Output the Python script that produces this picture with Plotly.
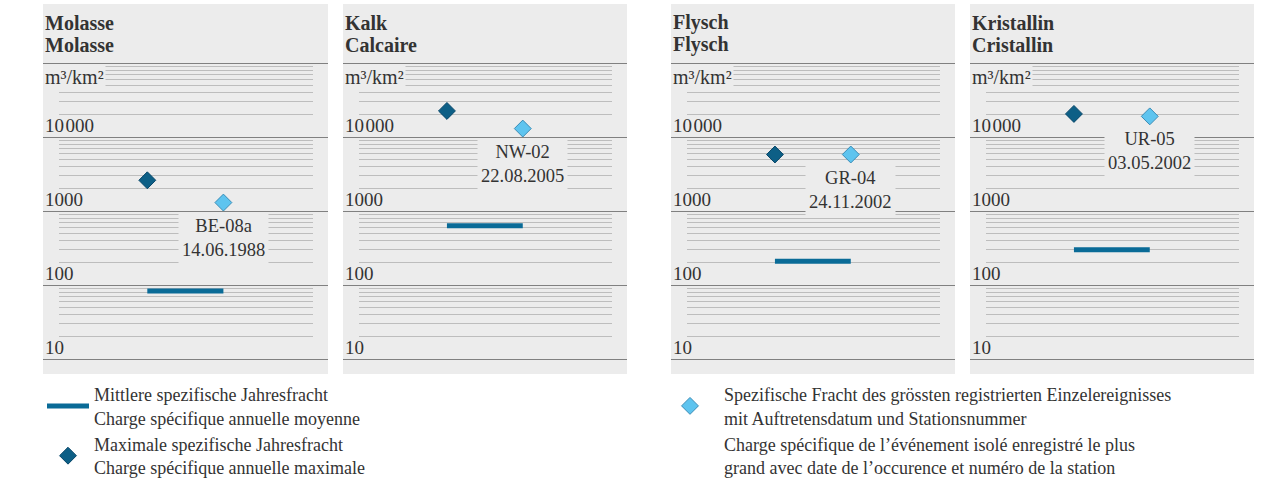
import math
import plotly.graph_objects as go

# ---------------- data ----------------
regions_de = ["Molasse", "Kalk", "Flysch", "Kristallin"]
regions_fr = ["Molasse", "Calcaire", "Flysch", "Cristallin"]
mean_annual_load = [83, 630, 210, 300]          # m3/km2
max_annual_load = [2600, 22500, 5800, 20500]    # m3/km2
event_load = [1300, 13000, 5800, 19000]         # m3/km2
event_station = ["BE-08a", "NW-02", "GR-04", "UR-05"]
event_date = ["14.06.1988", "22.08.2005", "24.11.2002", "03.05.2002"]
tick_values = [10, 100, 1000, 10000]
tick_labels = ["10", "100", "1000", "10\u200a000"]
unit_label = "m³/km²"
legend_mean = "Mittlere spezifische Jahresfracht<br>Charge spécifique annuelle moyenne"
legend_max = "Maximale spezifische Jahresfracht<br>Charge spécifique annuelle maximale"
legend_event_de = "Spezifische Fracht des grössten registrierten Einzelereignisses<br>mit Auftretensdatum und Stationsnummer"
legend_event_fr = "Charge spécifique de l\u2019événement isolé enregistré le plus<br>grand avec date de l\u2019occurence et numéro de la station"

# ---------------- styling / layout ----------------
W, H = 1273, 486
FONT = "Liberation Serif"
TXT = "#333333"
PANEL_BG = "#ececec"
MAJOR_GRID = "#808080"
MINOR_GRID = "#bdbdbd"
BAR_COLOR = "#0a6b97"
MAX_FILL, MAX_LINE = "#0d5f86", "#08476a"
EV_FILL, EV_LINE = "#5ec4ef", "#3a8cb6"

panel_px = [(43, 328), (343, 627), (671, 955), (970, 1254)]
top_px, bottom_px = 4, 374
grid_top_px, grid_bottom_px = 63, 359
inset = 15
decade_px = (grid_bottom_px - grid_top_px) / 4.0

def py(px):
    return 1 - px / H

def pxx(px):
    return px / W

main_ydom = [py(bottom_px), py(top_px)]
main_yrange = [1 - (bottom_px - grid_bottom_px) / decade_px, 5 + (grid_top_px - top_px) / decade_px]
minor_ydom = [py(grid_bottom_px), py(grid_top_px)]
minor_vals = [m * 10 ** k for k in range(1, 5) for m in range(2, 10)]

# marker x positions (max at 0, event at 1) -> fractions of panel width
f0, f1 = 0.366, 0.633
xlo = -f0 / (f1 - f0)
xhi = xlo + 1 / (f1 - f0)

fig = go.Figure()
layout = dict(
    width=W, height=H, autosize=False,
    margin=dict(l=0, r=0, t=0, b=0),
    paper_bgcolor="white",
    plot_bgcolor="rgba(0,0,0,0)",
    font=dict(family=FONT, color=TXT, size=18),
    shapes=[], annotations=[],
)

for i, (L, R) in enumerate(panel_px):
    mid = 2 * i + 1      # minor-grid subplot id
    mai = 2 * i + 2      # main subplot id
    sfx_min = "" if mid == 1 else str(mid)
    sfx_mai = str(mai)

    # panel background
    layout["shapes"].append(dict(type="rect", xref="paper", yref="paper", layer="below",
                                 x0=pxx(L), x1=pxx(R), y0=py(bottom_px), y1=py(top_px),
                                 fillcolor=PANEL_BG, line=dict(width=0)))

    # minor grid subplot (inset)
    layout["xaxis" + sfx_min] = dict(domain=[pxx(L + inset + 1), pxx(R - inset)], range=[0, 1],
                                     visible=False, anchor="y" + sfx_min)
    layout["yaxis" + sfx_min] = dict(domain=minor_ydom, type="log", range=[1, 5], anchor="x" + sfx_min,
                                     tickmode="array", tickvals=minor_vals, showticklabels=False,
                                     ticks="", showline=False, zeroline=False,
                                     showgrid=True, gridcolor=MINOR_GRID, gridwidth=1.2)
    fig.add_trace(go.Scatter(x=[None], y=[None], xaxis="x" + sfx_min, yaxis="y" + sfx_min,
                             showlegend=False, hoverinfo="skip"))

    # main subplot (full panel width, decade lines)
    layout["xaxis" + sfx_mai] = dict(domain=[pxx(L), pxx(R)], range=[xlo, xhi],
                                     visible=False, anchor="y" + sfx_mai)
    layout["yaxis" + sfx_mai] = dict(domain=main_ydom, type="log", range=main_yrange, anchor="x" + sfx_mai,
                                     tickmode="array", tickvals=tick_values + [100000], showticklabels=False,
                                     ticks="", showline=False, zeroline=False,
                                     showgrid=True, gridcolor=MAJOR_GRID, gridwidth=1.4)

    xa, ya = "x" + sfx_mai, "y" + sfx_mai
    first = i == 0
    fig.add_trace(go.Scatter(x=[0, 1], y=[mean_annual_load[i]] * 2, xaxis=xa, yaxis=ya, mode="lines",
                             line=dict(color=BAR_COLOR, width=5), name=legend_mean,
                             showlegend=first, legend="legend", hoverinfo="skip"))
    fig.add_trace(go.Scatter(x=[0], y=[max_annual_load[i]], xaxis=xa, yaxis=ya, mode="markers",
                             marker=dict(symbol="diamond", size=13, color=MAX_FILL,
                                         line=dict(color=MAX_LINE, width=1)),
                             name=legend_max, showlegend=first, legend="legend", hoverinfo="skip"))
    fig.add_trace(go.Scatter(x=[1], y=[event_load[i]], xaxis=xa, yaxis=ya, mode="markers",
                             marker=dict(symbol="diamond", size=13, color=EV_FILL,
                                         line=dict(color=EV_LINE, width=1)),
                             name=legend_event_de, showlegend=first, legend="legend2", hoverinfo="skip"))

    # titles
    layout["annotations"].append(dict(xref="paper", yref="paper", x=pxx(L), y=py(22.7),
                                      xanchor="left", yanchor="middle", showarrow=False,
                                      text="<b>%s</b>" % regions_de[i], font=dict(size=20)))
    layout["annotations"].append(dict(xref="paper", yref="paper", x=pxx(L), y=py(45),
                                      xanchor="left", yanchor="middle", showarrow=False,
                                      text="<b>%s</b>" % regions_fr[i], font=dict(size=20)))
    # unit label
    layout["annotations"].append(dict(xref="paper", yref="paper", x=pxx(L), y=py(grid_top_px + 1),
                                      xanchor="left", yanchor="top", showarrow=False,
                                      text=unit_label, bgcolor=PANEL_BG, borderpad=1,
                                      font=dict(size=20)))
    # tick labels
    for v, lab in zip(tick_values, tick_labels):
        layout["annotations"].append(dict(xref="paper", yref=ya, x=pxx(L), y=math.log10(v),
                                          xanchor="left", yanchor="bottom", showarrow=False,
                                          text=lab, font=dict(size=19), yshift=-1))
    # event label
    layout["annotations"].append(dict(xref=xa, yref=ya, x=1, y=math.log10(event_load[i]),
                                      xanchor="center", yanchor="top", yshift=-9, showarrow=False,
                                      text="%s<br>%s" % (event_station[i], event_date[i]),
                                      bgcolor=PANEL_BG, borderpad=3, align="center",
                                      font=dict(size=18.5)))

# legend-only entry for the French text of the event legend
fig.add_trace(go.Scatter(x=[None], y=[None], xaxis="x2", yaxis="y2", mode="markers",
                         marker=dict(symbol="diamond", size=13, color="rgba(0,0,0,0)"),
                         name=legend_event_fr, showlegend=True, legend="legend2", hoverinfo="skip"))

# legends anchored at the bottom edge so they never push the margins
leg_font = dict(size=18, family=FONT, color=TXT)
layout["legend"] = dict(x=pxx(42), y=0, xanchor="left", yanchor="bottom",
                        bgcolor="rgba(0,0,0,0)", font=leg_font, tracegroupgap=0, itemwidth=42)
layout["legend2"] = dict(x=pxx(656), y=0, xanchor="left", yanchor="bottom",
                         bgcolor="rgba(0,0,0,0)", font=leg_font, tracegroupgap=0, itemwidth=58)

fig.update_layout(**layout)
page_css = ("document.documentElement.style.margin='0px';"
            "document.documentElement.style.overflow='hidden';"
            "document.body.style.margin='0px';"
            "document.body.style.overflow='hidden';")
fig.write_html("out.html", config={"displayModeBar": False, "responsive": False},
               post_script=page_css)
